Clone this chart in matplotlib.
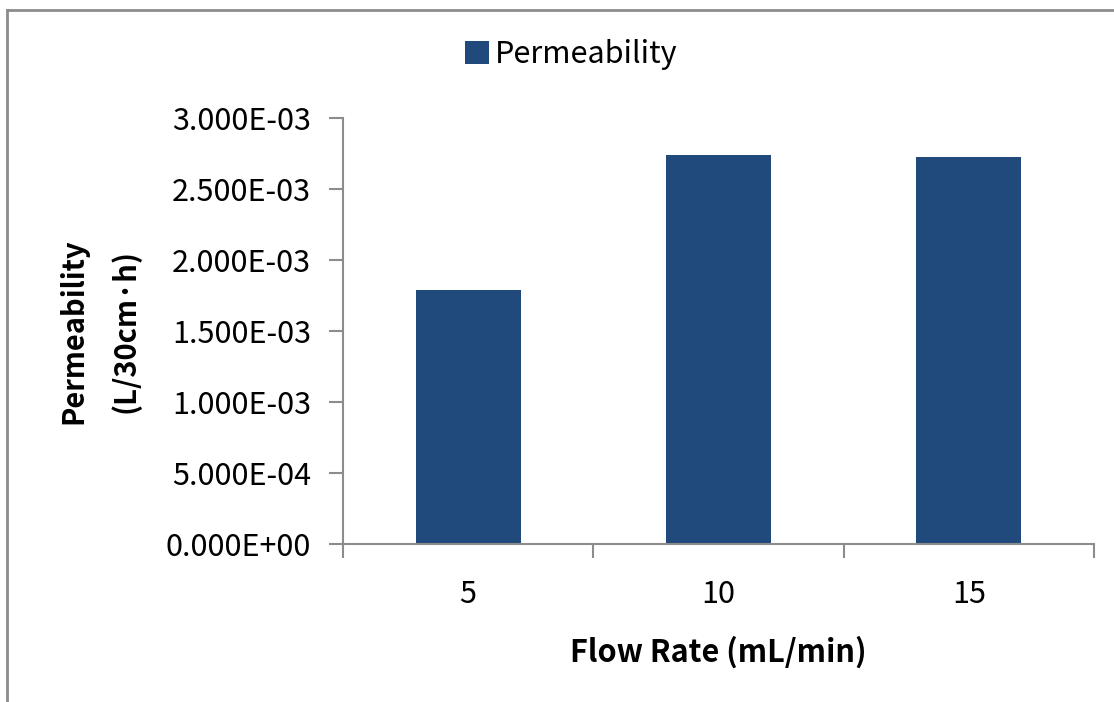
import numpy as np
import matplotlib.pyplot as plt
from matplotlib.lines import Line2D

plt.rcParams['font.family'] = ['Noto Sans CJK KR', 'DejaVu Sans']

flow_rates = ['5', '10', '15']
permeability = [1.789e-3, 2.739e-3, 2.727e-3]
y_ticks = [0.0, 5e-4, 1e-3, 1.5e-3, 2e-3, 2.5e-3, 3e-3]

bar_color = '#204a7c'
axis_gray = '#8c8c8c'

fig = plt.figure(figsize=(11.14, 7.02), dpi=100)
ax = fig.add_axes([343/1114, 1 - 544/702, (1094 - 343)/1114, (544 - 118)/702])

x = np.arange(len(flow_rates))
ax.bar(x, permeability, width=0.42, color=bar_color, label='Permeability', zorder=2)

ax.set_xlim(-0.5, len(flow_rates) - 0.5)
ax.set_ylim(0, 3e-3)
ax.set_yticks(y_ticks)
ax.set_yticklabels(['%.3E' % v for v in y_ticks])

# category boundaries get the tick marks, labels sit in between
ax.set_xticks(np.arange(len(flow_rates) + 1) - 0.5)
ax.set_xticklabels([])
ax.set_xticks(x, minor=True)
ax.set_xticklabels(flow_rates, minor=True)
ax.tick_params(axis='x', which='minor', length=0, pad=25, labelsize=22)
ax.tick_params(axis='x', which='major', length=10, width=1.5, color=axis_gray)
ax.tick_params(axis='y', length=10, width=1.5, color=axis_gray, labelsize=22, pad=13)

for side in ['top', 'right']:
    ax.spines[side].set_visible(False)
for side in ['left', 'bottom']:
    ax.spines[side].set_color(axis_gray)
    ax.spines[side].set_linewidth(1.5)

ax.set_xlabel('Flow Rate (mL/min)', fontsize=22, fontweight='bold', labelpad=19)
ax.set_ylabel('Permeability\n(L/30cm·h)', fontsize=21, fontweight='bold', linespacing=1.85)
ax.yaxis.set_label_coords(-0.270, 0.5)

fig.legend(loc='center', bbox_to_anchor=(571/1114, 1 - 55/702), frameon=False,
           fontsize=22, handlelength=0.78, handleheight=0.78, handletextpad=0.2)

# outer chart frame
fig.add_artist(Line2D([7/1114, 7/1114], [0, 1 - 10/702], color=axis_gray, lw=2))
fig.add_artist(Line2D([7/1114, 1], [1 - 10/702, 1 - 10/702], color=axis_gray, lw=2))

fig.savefig('out.png', dpi=100)
